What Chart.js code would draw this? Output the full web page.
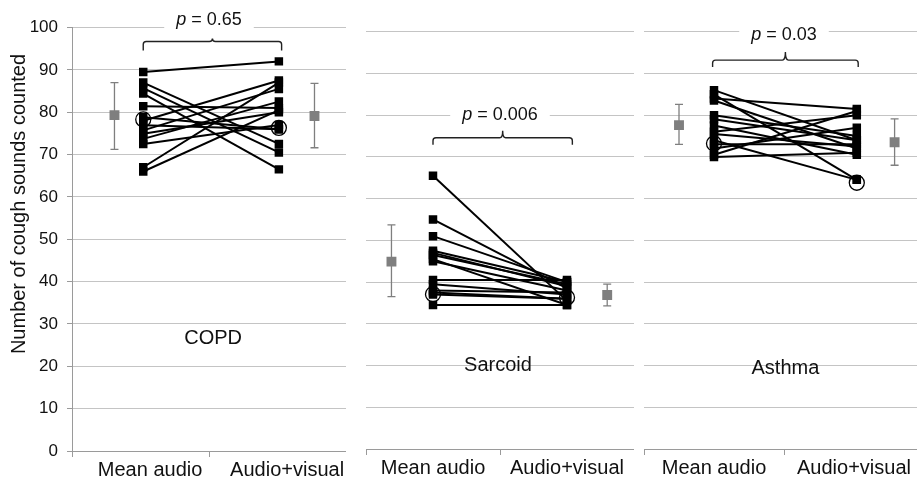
<!DOCTYPE html>
<html>
<head>
<meta charset="utf-8">
<script src="https://cdn.jsdelivr.net/npm/chart.js@4.4.0/dist/chart.umd.min.js"></script>
<style>
  html, body { margin: 0; padding: 0; background: #fff; overflow: hidden; width: 917px; height: 481px; }
  .panel { position: absolute; top: 0; height: 481px; }
</style>
</head>
<body>
<div class="panel" style="left:0;width:346px"><canvas id="c0"></canvas></div>
<div class="panel" style="left:346px;width:288px"><canvas id="c1"></canvas></div>
<div class="panel" style="left:634px;width:290px"><canvas id="c2"></canvas></div>
<script>
// categories and labels
const categories = ["Mean audio", "Audio+visual"];
const panelNames = ["COPD", "Sarcoid", "Asthma"];
const pValues = ["0.65", "0.006", "0.03"];
const yTitle = "Number of cough sounds counted";

// COPD, each subject: mean audio -> audio+visual
const copdAudio = [89.5, 87, 85.7, 84.4, 81.4, 78.8, 78, 76.9, 75.7, 74.9, 73.7, 72.5, 67, 66];
const copdVisual = [92, 72.5, 70.5, 66.5, 81, 76, 87.5, 76, 85.5, 80, 82.5, 77, 87, 80.5];
const copdCircle = [78.3, 76.3];
const copdMean = [79.3, 79.1];
const copdLow = [71.2, 71.6];
const copdHigh = [87.0, 86.8];

// Sarcoid
const sarcAudio = [65.5, 55, 51, 47.5, 47, 46.5, 45.5, 45, 40.5, 39.5, 38, 37.5, 37, 34.5];
const sarcVisual = [35.5, 38.5, 40, 40, 39, 39.5, 34.5, 38, 40.5, 37, 37.5, 36, 36, 34.5];
const sarcCircle = [37.1, 36.3];
const sarcMean = [44.9, 36.9];
const sarcLow = [36.5, 34.3];
const sarcHigh = [53.7, 39.5];

// Asthma
const asthAudio = [86, 85, 84, 83.5, 80, 79, 77.5, 76, 75.5, 74, 73, 72, 70.5, 70];
const asthVisual = [74, 64.5, 81.5, 72, 75, 74, 70.5, 80, 72.5, 64.5, 73, 77, 81, 71];
const asthCircle = [73.2, 63.8];
const asthMean = [77.6, 73.5];
const asthLow = [73.0, 68.0];
const asthHigh = [82.6, 79.1];

const FONT = "'Liberation Sans', Arial, sans-serif";
const GRID = "#c4c4c4";
const AXIS = "#9a9a9a";

// error bars + brackets + texts
const extras = {
  id: "extras",
  beforeDatasetsDraw(chart, args, o) {
    const { ctx, scales: { x, y } } = chart;
    ctx.save();
    ctx.strokeStyle = "#7f7f7f";
    ctx.lineWidth = 1.3;
    o.sumX.forEach((xv, i) => {
      const px = x.getPixelForValue(xv);
      const t = y.getPixelForValue(o.high[i]);
      const b = y.getPixelForValue(o.low[i]);
      ctx.beginPath();
      ctx.moveTo(px, t); ctx.lineTo(px, b);
      ctx.moveTo(px - 4, t); ctx.lineTo(px + 4, t);
      ctx.moveTo(px - 4, b); ctx.lineTo(px + 4, b);
      ctx.stroke();
    });
    ctx.restore();
  },
  afterDraw(chart, args, o) {
    const { ctx, scales: { x, y } } = chart;
    ctx.save();
    // p label over a white gap in the gridline
    const pcx = x.getPixelForValue(1.0);
    const pcy = y.getPixelForValue(o.pY);
    ctx.font = "italic 18px " + FONT;
    const w1 = ctx.measureText("p").width;
    ctx.font = "18px " + FONT;
    const rest = " = " + o.p;
    const w2 = ctx.measureText(rest).width;
    const tw = w1 + w2;
    ctx.fillStyle = "#fff";
    ctx.fillRect(pcx - tw / 2 - 12, pcy - 11, tw + 24, 22);
    ctx.fillStyle = "#111";
    ctx.textBaseline = "middle";
    ctx.textAlign = "left";
    ctx.font = "italic 18px " + FONT;
    ctx.fillText("p", pcx - tw / 2, pcy);
    ctx.font = "18px " + FONT;
    ctx.fillText(rest, pcx - tw / 2 + w1, pcy);

    // bracket
    const x1 = x.getPixelForValue(o.brX[0]);
    const x2 = x.getPixelForValue(o.brX[1]);
    const xm = (x1 + x2) / 2;
    const yb = y.getPixelForValue(o.brY);
    const r = 3;
    ctx.strokeStyle = "#222";
    ctx.lineWidth = 1.4;
    ctx.beginPath();
    ctx.moveTo(x1, yb + o.drop);
    ctx.lineTo(x1, yb + r);
    ctx.quadraticCurveTo(x1, yb, x1 + r, yb);
    ctx.lineTo(xm - r, yb);
    ctx.quadraticCurveTo(xm, yb, xm, yb - o.tick);
    ctx.quadraticCurveTo(xm, yb, xm + r, yb);
    ctx.lineTo(x2 - r, yb);
    ctx.quadraticCurveTo(x2, yb, x2, yb + r);
    ctx.lineTo(x2, yb + o.drop);
    ctx.stroke();

    // panel name
    ctx.fillStyle = "#111";
    ctx.textAlign = "center";
    ctx.font = "20px " + FONT;
    ctx.fillText(o.name, x.getPixelForValue(o.nameX), y.getPixelForValue(o.nameY));

    if (o.yTitle) {
      ctx.translate(19, 204);
      ctx.rotate(-Math.PI / 2);
      ctx.font = "20px " + FONT;
      ctx.fillText(o.yTitle, 0, 0);
    }
    ctx.restore();
  }
};

const makePanel = (id, audio, visual, circle, mean, low, high, cfg) => {
  const datasets = [];
  datasets.push({
    data: [{ x: cfg.xs[0], y: circle[0] }, { x: cfg.xs[1], y: circle[1] }],
    showLine: false, pointStyle: "circle", pointRadius: 7.5,
    pointBorderColor: "#000", pointBackgroundColor: "rgba(0,0,0,0)", pointBorderWidth: 1.3, order: 0,
  });
  datasets.push({
    data: [{ x: cfg.sumX[0], y: mean[0] }, { x: cfg.sumX[1], y: mean[1] }],
    showLine: false, pointStyle: "rect", pointRadius: 7,
    pointBackgroundColor: "#7f7f7f", pointBorderWidth: 0, order: 1,
  });
  for (let i = 0; i < audio.length; i++) {
    datasets.push({
      data: [{ x: cfg.xs[0], y: audio[i] }, { x: cfg.xs[1], y: visual[i] }],
      showLine: true, borderColor: "#000", borderWidth: 2,
      pointStyle: "rect", pointRadius: 6, pointBackgroundColor: "#000", pointBorderWidth: 0, order: 2,
    });
  }

  const yScale = cfg.first
    ? {
        min: 0, max: 100,
        ticks: { stepSize: 10, padding: 9, color: "#111", font: { size: 17, family: FONT } },
        grid: { color: GRID, tickColor: AXIS, tickLength: 5 },
        border: { color: AXIS },
        afterFit(s) { s.width = 72; },
      }
    : {
        min: 0, max: 100,
        ticks: { stepSize: 10, display: false },
        grid: { color: GRID, drawTicks: false },
        border: { display: false },
        afterFit(s) { s.width = 0; },
      };

  const lab = cfg.labelAt;
  return new Chart(document.getElementById(id), {
    type: "scatter",
    data: { datasets },
    options: {
      responsive: true,
      maintainAspectRatio: false,
      animation: false,
      layout: { autoPadding: false, padding: { left: cfg.padLeft, top: cfg.padTop, right: 0, bottom: 0 } },
      plugins: {
        legend: { display: false },
        tooltip: { enabled: false },
        extras: {
          p: cfg.p, pY: cfg.pY, brX: cfg.brX, brY: cfg.brY, drop: cfg.drop, tick: cfg.tick,
          name: cfg.name, nameX: cfg.nameX, nameY: cfg.nameY, yTitle: cfg.first ? yTitle : null,
          sumX: cfg.sumX, low, high,
        },
      },
      scales: {
        x: {
          type: "linear", min: 0, max: 2,
          afterBuildTicks(s) { s.ticks = [0, lab[0], 1, lab[1], 2].map((v) => ({ value: v })); },
          ticks: {
            autoSkip: false, maxRotation: 0, padding: 1, color: "#111",
            font: { size: 20, family: FONT },
            callback: (v) => (v === lab[0] ? categories[0] : v === lab[1] ? categories[1] : ""),
          },
          grid: {
            drawOnChartArea: false, tickLength: 6,
            tickColor: (c) => (c.tick && c.tick.value % 1 !== 0 ? "rgba(0,0,0,0)" : AXIS),
          },
          border: { color: AXIS },
          afterFit(s) { s.height = cfg.axisH; s.paddingLeft = 0; s.paddingRight = 0; },
        },
        y: yScale,
      },
    },
    plugins: [extras],
  });
};

makePanel("c0", copdAudio, copdVisual, copdCircle, copdMean, copdLow, copdHigh, {
  first: true, padLeft: 0, padTop: 27.5, axisH: 30, labelAt: [0.57, 1.57],
  xs: [0.52, 1.51], sumX: [0.31, 1.77],
  p: pValues[0], pY: 101.7, brX: [0.52, 1.53], brY: 96.7, drop: 9, tick: 3,
  name: panelNames[0], nameX: 1.03, nameY: 26.5,
});
makePanel("c1", sarcAudio, sarcVisual, sarcCircle, sarcMean, sarcLow, sarcHigh, {
  first: false, padLeft: 20, padTop: 31.7, axisH: 32, labelAt: [0.5, 1.5],
  xs: [0.5, 1.5], sumX: [0.19, 1.8],
  p: pValues[1], pY: 80, brX: [0.5, 1.54], brY: 74.6, drop: 7, tick: 7,
  name: panelNames[1], nameX: 0.985, nameY: 19.9,
});
makePanel("c2", asthAudio, asthVisual, asthCircle, asthMean, asthLow, asthHigh, {
  first: false, padLeft: 10, padTop: 31.7, axisH: 32, labelAt: [0.5, 1.5],
  xs: [0.5, 1.52], sumX: [0.25, 1.79],
  p: pValues[2], pY: 99.2, brX: [0.49, 1.53], brY: 93.2, drop: 7, tick: 8,
  name: panelNames[2], nameX: 1.01, nameY: 19.4,
});
</script>
</body>
</html>
